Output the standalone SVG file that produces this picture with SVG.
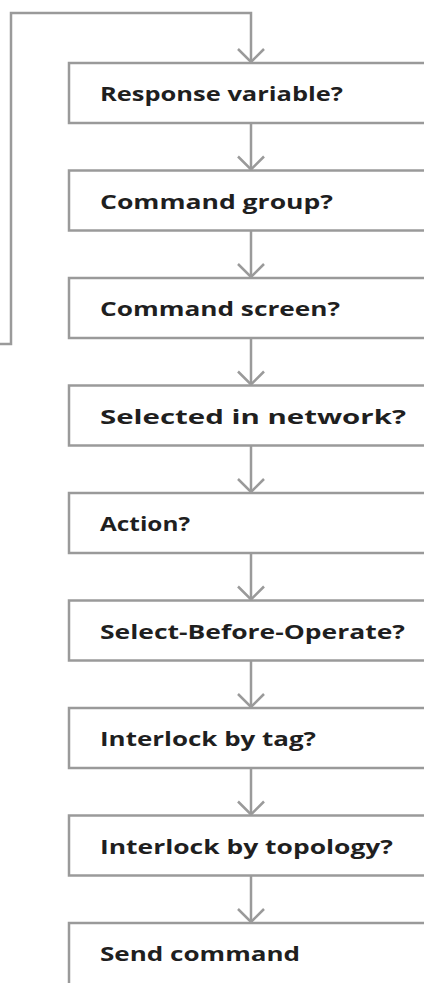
<svg xmlns="http://www.w3.org/2000/svg" width="424" height="983" viewBox="0 0 424 983">
  <style>
    .box { fill: #ffffff; stroke: #9a9a9a; stroke-width: 2.5; }
    .lbl { font-family: "Open Sans", "Liberation Sans", sans-serif; font-weight: 700; font-size: 19.5px; fill: #1f1f1f; }
    .wire { fill: none; stroke: #9a9a9a; stroke-width: 2.5; }
  </style>
  <rect width="424" height="983" fill="#ffffff"/>

  <g id="connectors">
    <!-- feedback loop into the first step -->
    <path class="wire" d="M0 344 H11 V13 H251 V63"/>
    <path d="M238 49 L251 62 L264 49" class="wire"/>
    <!-- downward flow between steps -->
    <g id="flow">
      <path class="wire" d="M251 123 V170.5"/><path class="wire" d="M238 156.5 L251 169.5 L264 156.5"/>
      <path class="wire" d="M251 230.5 V278"/><path class="wire" d="M238 264 L251 277 L264 264"/>
      <path class="wire" d="M251 338 V385.5"/><path class="wire" d="M238 371.5 L251 384.5 L264 371.5"/>
      <path class="wire" d="M251 445.5 V493"/><path class="wire" d="M238 479 L251 492 L264 479"/>
      <path class="wire" d="M251 553 V600.5"/><path class="wire" d="M238 586.5 L251 599.5 L264 586.5"/>
      <path class="wire" d="M251 660.5 V708"/><path class="wire" d="M238 694 L251 707 L264 694"/>
      <path class="wire" d="M251 768 V815.5"/><path class="wire" d="M238 801.5 L251 814.5 L264 801.5"/>
      <path class="wire" d="M251 875.5 V923"/><path class="wire" d="M238 909 L251 922 L264 909"/>
    </g>
  </g>

  <g id="n1"><rect class="box" x="69" y="63" width="370" height="60"/><text class="lbl" x="100" y="101" textLength="243" lengthAdjust="spacingAndGlyphs">Response variable?</text></g>
  <g id="n2"><rect class="box" x="69" y="170.5" width="370" height="60"/><text class="lbl" x="100" y="208.5" textLength="233" lengthAdjust="spacingAndGlyphs">Command group?</text></g>
  <g id="n3"><rect class="box" x="69" y="278" width="370" height="60"/><text class="lbl" x="100" y="316" textLength="240" lengthAdjust="spacingAndGlyphs">Command screen?</text></g>
  <g id="n4"><rect class="box" x="69" y="385.5" width="370" height="60"/><text class="lbl" x="100" y="423.5" textLength="306" lengthAdjust="spacingAndGlyphs">Selected in network?</text></g>
  <g id="n5"><rect class="box" x="69" y="493" width="370" height="60"/><text class="lbl" x="100" y="531" textLength="90" lengthAdjust="spacingAndGlyphs">Action?</text></g>
  <g id="n6"><rect class="box" x="69" y="600.5" width="370" height="60"/><text class="lbl" x="100" y="638.5" textLength="305" lengthAdjust="spacingAndGlyphs">Select-Before-Operate?</text></g>
  <g id="n7"><rect class="box" x="69" y="708" width="370" height="60"/><text class="lbl" x="100" y="746" textLength="216" lengthAdjust="spacingAndGlyphs">Interlock by tag?</text></g>
  <g id="n8"><rect class="box" x="69" y="815.5" width="370" height="60"/><text class="lbl" x="100" y="853.5" textLength="293" lengthAdjust="spacingAndGlyphs">Interlock by topology?</text></g>
  <g id="n9"><rect class="box" x="69" y="923" width="370" height="80"/><text class="lbl" x="100" y="961" textLength="200" lengthAdjust="spacingAndGlyphs">Send command</text></g>
</svg>
